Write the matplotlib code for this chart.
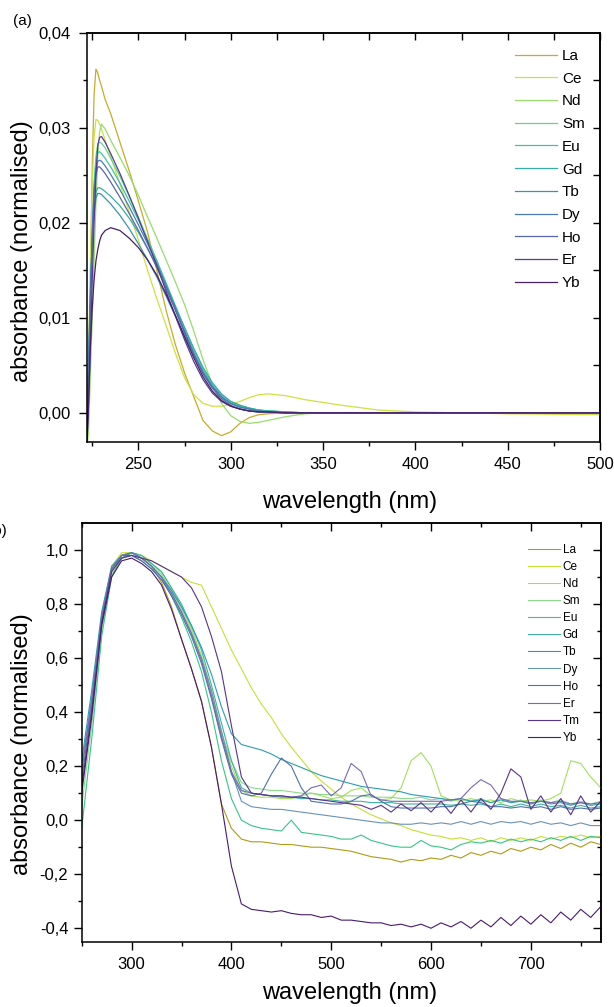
import matplotlib
matplotlib.use("Agg")
import matplotlib.pyplot as plt
from matplotlib.ticker import FuncFormatter, FixedLocator

plt.rcParams['font.family'] = ['Liberation Sans', 'DejaVu Sans']

# ---------------- panel (a) data ----------------
wl_a = [222, 223, 224, 225, 226, 227, 228, 229, 230, 232, 235, 240, 245, 250, 255, 260,
        265, 270, 275, 280, 285, 290, 295, 300, 305, 310, 315, 320, 330, 340, 350, 360,
        380, 400, 450, 500]

names_a = ['La', 'Ce', 'Nd', 'Sm', 'Eu', 'Gd', 'Tb', 'Dy', 'Ho', 'Er', 'Yb']
colors_a = ['#c8ac28', '#cde23f', '#96dc6e', '#66d294', '#3fc4a2', '#36aea6',
            '#3a92ac', '#4a7cb4', '#5766aa', '#573c94', '#4a1f68']

La_a = [-0.004, 0.004, 0.014, 0.026, 0.0335, 0.0362, 0.0358, 0.0350, 0.0344, 0.0330, 0.0315,
        0.0285, 0.0255, 0.0223, 0.0190, 0.0150, 0.0108, 0.0072, 0.0042, 0.0017, -0.0008,
        -0.0019, -0.0024, -0.0020, -0.0011, -0.0005, -0.0002, -0.0001, 0.0, 0.0, 0.0, 0.0,
        0.0, 0.0, 0.0, 0.0]
Ce_a = [-0.004, 0.006, 0.016, 0.024, 0.029, 0.0309, 0.0308, 0.0304, 0.0299, 0.0287, 0.0270,
        0.0241, 0.0212, 0.0182, 0.0150, 0.0120, 0.0092, 0.0063, 0.0037, 0.0019, 0.0010,
        0.0007, 0.0007, 0.0009, 0.0012, 0.0016, 0.0019, 0.0020, 0.0018, 0.0014, 0.0011,
        0.0008, 0.0003, 0.0001, -0.0001, -0.0002]
Nd_a = [-0.004, -0.002, 0.004, 0.010, 0.016, 0.022, 0.027, 0.0296, 0.0304, 0.0299, 0.0287,
        0.0269, 0.0250, 0.0229, 0.0206, 0.0184, 0.0161, 0.0138, 0.0114, 0.0086, 0.0056,
        0.0030, 0.0010, -0.0003, -0.0009, -0.0011, -0.0010, -0.0008, -0.0004, -0.0001,
        0.0, 0.0, 0.0, 0.0, 0.0, 0.0]
Sm_a = [-0.004, 0.003, 0.011, 0.018, 0.024, 0.027, 0.0283, 0.0285, 0.0284, 0.0279, 0.0268,
        0.0249, 0.0228, 0.0206, 0.0183, 0.0160, 0.0135, 0.0110, 0.0085, 0.0062, 0.0042,
        0.0027, 0.0016, 0.0010, 0.0007, 0.0005, 0.0003, 0.0002, 0.0001, 0.0, 0.0, 0.0,
        0.0, 0.0, 0.0, 0.0]
Eu_a = [-0.004, 0.004, 0.012, 0.019, 0.0240, 0.0265, 0.0274, 0.0275, 0.0273, 0.0268, 0.0259,
        0.0242, 0.0223, 0.0203, 0.0182, 0.0160, 0.0137, 0.0113, 0.0089, 0.0066, 0.0046,
        0.0030, 0.0019, 0.0012, 0.0008, 0.0005, 0.0003, 0.0002, 0.0001, 0.0, 0.0, 0.0,
        0.0, 0.0, 0.0, 0.0]
Gd_a = [-0.004, 0.005, 0.012, 0.018, 0.0215, 0.0232, 0.0237, 0.0237, 0.0236, 0.0233, 0.0228,
        0.0218, 0.0205, 0.0190, 0.0173, 0.0155, 0.0134, 0.0112, 0.0090, 0.0068, 0.0048,
        0.0032, 0.0020, 0.0012, 0.0008, 0.0005, 0.0003, 0.0002, 0.0001, 0.0, 0.0, 0.0,
        0.0, 0.0, 0.0, 0.0]
Tb_a = [-0.004, 0.006, 0.013, 0.018, 0.021, 0.0226, 0.0231, 0.0231, 0.0230, 0.0226, 0.0220,
        0.0208, 0.0194, 0.0178, 0.0161, 0.0143, 0.0123, 0.0102, 0.0081, 0.0061, 0.0043,
        0.0028, 0.0017, 0.0010, 0.0006, 0.0004, 0.0002, 0.0001, 0.0, 0.0, 0.0, 0.0,
        0.0, 0.0, 0.0, 0.0]
Dy_a = [-0.004, 0.004, 0.012, 0.019, 0.0235, 0.0257, 0.0265, 0.0266, 0.0265, 0.0260, 0.0251,
        0.0235, 0.0217, 0.0198, 0.0178, 0.0157, 0.0134, 0.0110, 0.0086, 0.0063, 0.0043,
        0.0028, 0.0017, 0.0010, 0.0006, 0.0004, 0.0002, 0.0001, 0.0, 0.0, 0.0, 0.0,
        0.0, 0.0, 0.0, 0.0]
Ho_a = [-0.004, 0.003, 0.011, 0.018, 0.0230, 0.0251, 0.0259, 0.0259, 0.0257, 0.0252, 0.0243,
        0.0227, 0.0210, 0.0192, 0.0173, 0.0153, 0.0131, 0.0108, 0.0084, 0.0061, 0.0041,
        0.0026, 0.0015, 0.0008, 0.0004, 0.0002, 0.0001, 0.0001, 0.0, 0.0, 0.0, 0.0,
        0.0, 0.0, 0.0, 0.0]
Er_a = [-0.004, 0.001, 0.007, 0.014, 0.020, 0.025, 0.0282, 0.0290, 0.0291, 0.0285, 0.0273,
        0.0252, 0.0229, 0.0205, 0.0180, 0.0155, 0.0128, 0.0102, 0.0077, 0.0054, 0.0035,
        0.0021, 0.0012, 0.0007, 0.0004, 0.0002, 0.0001, 0.0001, 0.0, 0.0, 0.0, 0.0,
        0.0, 0.0, 0.0, 0.0]
Yb_a = [-0.004, 0.001, 0.007, 0.011, 0.014, 0.016, 0.0172, 0.0181, 0.0187, 0.0192, 0.0195,
        0.0192, 0.0184, 0.0174, 0.0161, 0.0145, 0.0125, 0.0103, 0.0080, 0.0058, 0.0038,
        0.0023, 0.0013, 0.0007, 0.0004, 0.0002, 0.0001, 0.0001, 0.0, 0.0, 0.0, 0.0,
        0.0, 0.0, 0.0, 0.0]
series_a = [La_a, Ce_a, Nd_a, Sm_a, Eu_a, Gd_a, Tb_a, Dy_a, Ho_a, Er_a, Yb_a]

# ---------------- panel (b) data ----------------
wl_b = [250, 260, 270, 280, 290, 300, 310, 320, 330, 340, 350, 360, 370, 380, 390, 400,
        410, 420, 430, 440, 450, 460, 470, 480, 490, 500, 510, 520, 530, 540, 550, 560,
        570, 580, 590, 600, 610, 620, 630, 640, 650, 660, 670, 680, 690, 700, 710, 720,
        730, 740, 750, 760, 770]

names_b = ['La', 'Ce', 'Nd', 'Sm', 'Eu', 'Gd', 'Tb', 'Dy', 'Ho', 'Er', 'Tm', 'Yb']
colors_b = ['#b09b16', '#c6e036', '#a2e05a', '#8cd88c', '#3ac486', '#3cb4a0', '#2c9cb2',
            '#6892b8', '#4c72aa', '#7a68b0', '#573290', '#4a1a6e']

La_b = [0.12, 0.40, 0.73, 0.92, 0.97, 0.99, 0.97, 0.94, 0.88, 0.79, 0.67, 0.56, 0.44, 0.27,
        0.06, -0.03, -0.07, -0.08, -0.08, -0.085, -0.09, -0.09, -0.095, -0.10, -0.10, -0.105,
        -0.11, -0.115, -0.125, -0.135, -0.14, -0.145, -0.155, -0.145, -0.15, -0.14, -0.145,
        -0.13, -0.14, -0.12, -0.13, -0.115, -0.125, -0.105, -0.115, -0.10, -0.11, -0.09,
        -0.105, -0.085, -0.10, -0.08, -0.09]
Ce_b = [0.18, 0.45, 0.76, 0.94, 0.99, 0.99, 0.98, 0.96, 0.94, 0.92, 0.90, 0.88, 0.87, 0.79,
        0.71, 0.63, 0.56, 0.49, 0.43, 0.38, 0.32, 0.27, 0.225, 0.18, 0.145, 0.115, 0.085,
        0.06, 0.04, 0.02, 0.005, -0.01, -0.02, -0.035, -0.045, -0.055, -0.06, -0.07, -0.065,
        -0.075, -0.065, -0.08, -0.065, -0.075, -0.065, -0.075, -0.06, -0.07, -0.06, -0.065,
        -0.055, -0.065, -0.06]
Nd_b = [0.15, 0.42, 0.74, 0.93, 0.98, 0.99, 0.97, 0.95, 0.92, 0.86, 0.79, 0.71, 0.61, 0.48,
        0.33, 0.20, 0.11, 0.09, 0.085, 0.085, 0.08, 0.08, 0.09, 0.10, 0.09, 0.08, 0.085,
        0.11, 0.12, 0.09, 0.075, 0.08, 0.12, 0.22, 0.25, 0.20, 0.09, 0.075, 0.07, 0.08, 0.07,
        0.075, 0.065, 0.08, 0.07, 0.075, 0.07, 0.08, 0.10, 0.22, 0.21, 0.16, 0.12]
Sm_b = [0.05, 0.35, 0.70, 0.91, 0.97, 0.99, 0.98, 0.95, 0.91, 0.85, 0.78, 0.70, 0.60, 0.47,
        0.32, 0.22, 0.14, 0.12, 0.115, 0.11, 0.11, 0.105, 0.10, 0.10, 0.095, 0.095, 0.09,
        0.09, 0.09, 0.085, 0.085, 0.085, 0.08, 0.08, 0.085, 0.075, 0.08, 0.07, 0.08, 0.07,
        0.08, 0.065, 0.08, 0.065, 0.075, 0.06, 0.075, 0.065, 0.075, 0.06, 0.07, 0.06, 0.07]
Eu_b = [-0.03, 0.30, 0.68, 0.90, 0.97, 0.99, 0.97, 0.94, 0.90, 0.83, 0.75, 0.66, 0.55, 0.40,
        0.22, 0.08, 0.0, -0.02, -0.03, -0.035, -0.04, 0.0, -0.045, -0.05, -0.055, -0.06,
        -0.07, -0.07, -0.055, -0.075, -0.085, -0.095, -0.10, -0.10, -0.075, -0.095, -0.10,
        -0.11, -0.09, -0.08, -0.085, -0.075, -0.085, -0.07, -0.08, -0.07, -0.08, -0.065,
        -0.075, -0.06, -0.075, -0.06, -0.065]
Gd_b = [0.20, 0.45, 0.75, 0.93, 0.98, 0.99, 0.98, 0.95, 0.92, 0.86, 0.80, 0.72, 0.63, 0.50,
        0.36, 0.22, 0.12, 0.10, 0.095, 0.09, 0.085, 0.085, 0.08, 0.08, 0.075, 0.075, 0.07,
        0.07, 0.07, 0.065, 0.065, 0.065, 0.06, 0.06, 0.06, 0.06, 0.06, 0.055, 0.06, 0.055,
        0.06, 0.05, 0.06, 0.05, 0.06, 0.05, 0.06, 0.05, 0.055, 0.045, 0.055, 0.045, 0.05]
Tb_b = [0.22, 0.48, 0.77, 0.94, 0.98, 0.99, 0.97, 0.94, 0.90, 0.85, 0.79, 0.72, 0.64, 0.54,
        0.42, 0.32, 0.28, 0.27, 0.26, 0.245, 0.225, 0.21, 0.195, 0.18, 0.165, 0.155, 0.145,
        0.135, 0.125, 0.12, 0.115, 0.11, 0.105, 0.095, 0.09, 0.085, 0.08, 0.075, 0.08, 0.07,
        0.075, 0.065, 0.075, 0.065, 0.07, 0.06, 0.07, 0.06, 0.065, 0.055, 0.065, 0.055, 0.06]
Dy_b = [0.20, 0.44, 0.75, 0.93, 0.97, 0.98, 0.96, 0.93, 0.89, 0.84, 0.77, 0.69, 0.60, 0.48,
        0.33, 0.18, 0.07, 0.05, 0.045, 0.04, 0.04, 0.035, 0.03, 0.025, 0.02, 0.015, 0.01,
        0.005, 0.0, -0.005, -0.01, -0.01, -0.015, -0.015, -0.01, -0.015, -0.01, -0.015,
        -0.005, -0.015, -0.005, -0.015, -0.005, -0.01, -0.005, -0.015, -0.005, -0.015,
        -0.01, -0.02, -0.01, -0.02, -0.02]
Ho_b = [0.15, 0.42, 0.74, 0.93, 0.98, 0.98, 0.96, 0.93, 0.89, 0.83, 0.76, 0.68, 0.58, 0.45,
        0.30, 0.17, 0.10, 0.09, 0.10, 0.17, 0.23, 0.20, 0.12, 0.07, 0.065, 0.06, 0.06, 0.07,
        0.09, 0.095, 0.07, 0.05, 0.045, 0.045, 0.045, 0.045, 0.05, 0.05, 0.06, 0.07, 0.065,
        0.05, 0.05, 0.045, 0.05, 0.045, 0.05, 0.04, 0.05, 0.04, 0.045, 0.04, 0.045]
Er_b = [0.18, 0.44, 0.75, 0.93, 0.98, 0.99, 0.97, 0.94, 0.90, 0.84, 0.77, 0.69, 0.59, 0.46,
        0.31, 0.18, 0.11, 0.10, 0.095, 0.09, 0.09, 0.085, 0.09, 0.12, 0.13, 0.09, 0.12, 0.21,
        0.18, 0.09, 0.075, 0.07, 0.07, 0.07, 0.07, 0.07, 0.07, 0.075, 0.08, 0.12, 0.15, 0.13,
        0.08, 0.07, 0.07, 0.065, 0.07, 0.065, 0.07, 0.06, 0.065, 0.06, 0.065]
Tm_b = [0.12, 0.40, 0.73, 0.92, 0.97, 0.98, 0.97, 0.96, 0.94, 0.92, 0.90, 0.86, 0.79, 0.68,
        0.55, 0.35, 0.16, 0.10, 0.095, 0.09, 0.09, 0.085, 0.085, 0.08, 0.075, 0.07, 0.065,
        0.06, 0.055, 0.04, 0.055, 0.03, 0.06, 0.035, 0.065, 0.03, 0.07, 0.025, 0.075, 0.03,
        0.08, 0.04, 0.10, 0.19, 0.16, 0.04, 0.09, 0.03, 0.08, 0.02, 0.09, 0.03, 0.07]
Yb_b = [0.10, 0.38, 0.72, 0.90, 0.96, 0.97, 0.95, 0.92, 0.87, 0.78, 0.67, 0.56, 0.44, 0.27,
        0.06, -0.17, -0.31, -0.33, -0.335, -0.34, -0.335, -0.345, -0.35, -0.35, -0.36,
        -0.355, -0.37, -0.37, -0.375, -0.38, -0.38, -0.39, -0.385, -0.395, -0.385, -0.40,
        -0.38, -0.395, -0.375, -0.40, -0.37, -0.395, -0.36, -0.39, -0.355, -0.385, -0.35,
        -0.38, -0.34, -0.37, -0.33, -0.36, -0.32]
series_b = [La_b, Ce_b, Nd_b, Sm_b, Eu_b, Gd_b, Tb_b, Dy_b, Ho_b, Er_b, Tm_b, Yb_b]

# ---------------- figure ----------------
W, H = 614, 1007
fig = plt.figure(figsize=(W / 100, H / 100), dpi=100)

def fbox(x0, y0, x1, y1):
    return [x0 / W, 1 - y1 / H, (x1 - x0) / W, (y1 - y0) / H]

ax_a = fig.add_axes(fbox(86.7, 33, 600, 442.3))
ax_b = fig.add_axes(fbox(81.7, 523, 600.7, 942.3))

comma2 = FuncFormatter(lambda v, p: ('%.2f' % v).replace('.', ',').replace('-0,00', '0,00'))
comma1 = FuncFormatter(lambda v, p: ('%.1f' % v).replace('.', ',')
                       if abs(v) > 1e-9 else '0,0')

for ax, ypad in ((ax_a, 6.0), (ax_b, 3.8)):
    for s in ax.spines.values():
        s.set_linewidth(1.1)
    ax.tick_params(axis='both', which='major', direction='out', length=5.8, width=1.0,
                   labelsize=12, top=False, right=False)
    ax.tick_params(axis='both', which='minor', direction='out', length=3.2, width=1.0,
                   top=False, right=False)
    ax.tick_params(axis='x', which='major', pad=4.5)
    ax.tick_params(axis='y', which='major', pad=ypad)

# panel (a)
for vals, nm, c in zip(series_a, names_a, colors_a):
    ax_a.plot(wl_a, vals, color=c, lw=0.9, label=nm)
ax_a.set_xlim(222, 500)
ax_a.set_ylim(-0.0031, 0.04)
ax_a.xaxis.set_major_locator(FixedLocator([250, 300, 350, 400, 450, 500]))
ax_a.xaxis.set_minor_locator(FixedLocator([225, 275, 325, 375, 425, 475]))
ax_a.yaxis.set_major_locator(FixedLocator([0.0, 0.01, 0.02, 0.03, 0.04]))
ax_a.yaxis.set_minor_locator(FixedLocator([0.005, 0.015, 0.025, 0.035]))
ax_a.yaxis.set_major_formatter(comma2)
secx = ax_a.secondary_xaxis('top')
secx.set_xticks([225, 250, 275, 300, 325, 350, 375, 400, 425, 450, 475, 500])
secx.tick_params(direction='in', length=4.8, width=1.0, labeltop=False)
secy = ax_a.secondary_yaxis('right')
secy.set_yticks([0.0, 0.005, 0.01, 0.015, 0.02, 0.025, 0.03, 0.035])
secy.tick_params(direction='in', length=4.8, width=1.0, labelright=False)
for sp in list(secx.spines.values()) + list(secy.spines.values()):
    sp.set_linewidth(1.1)

ax_a.legend(loc='upper left', bbox_to_anchor=(515 / W, 1 - 49 / H),
            bbox_transform=fig.transFigure, frameon=False, fontsize=11,
            handlelength=2.75, handletextpad=0.33, labelspacing=0.57,
            borderpad=0, borderaxespad=0)

# panel (b)
for vals, nm, c in zip(series_b, names_b, colors_b):
    ax_b.plot(wl_b, vals, color=c, lw=0.8, label=nm)
ax_b.set_xlim(250, 770)
ax_b.set_ylim(-0.452, 1.1)
ax_b.xaxis.set_major_locator(FixedLocator([300, 400, 500, 600, 700]))
ax_b.xaxis.set_minor_locator(FixedLocator([250, 350, 450, 550, 650, 750]))
ax_b.yaxis.set_major_locator(FixedLocator([-0.4, -0.2, 0.0, 0.2, 0.4, 0.6, 0.8, 1.0]))
ax_b.yaxis.set_minor_locator(FixedLocator([-0.3, -0.1, 0.1, 0.3, 0.5, 0.7, 0.9]))
ax_b.yaxis.set_major_formatter(comma1)
secx_b = ax_b.secondary_xaxis('top')
secx_b.xaxis.set_major_locator(FixedLocator([300, 400, 500, 600, 700]))
secx_b.xaxis.set_minor_locator(FixedLocator([250, 350, 450, 550, 650, 750]))
secx_b.tick_params(which='major', direction='in', length=5.8, width=1.0, labeltop=False)
secx_b.tick_params(which='minor', direction='in', length=3.2, width=1.0)
secy_b = ax_b.secondary_yaxis('right')
secy_b.yaxis.set_major_locator(FixedLocator([-0.4, -0.2, 0.0, 0.2, 0.4, 0.6, 0.8, 1.0]))
secy_b.yaxis.set_minor_locator(FixedLocator([-0.3, -0.1, 0.1, 0.3, 0.5, 0.7, 0.9]))
secy_b.tick_params(which='major', direction='in', length=5.8, width=1.0, labelright=False)
secy_b.tick_params(which='minor', direction='in', length=3.2, width=1.0)
for sp in list(secx_b.spines.values()) + list(secy_b.spines.values()):
    sp.set_linewidth(1.1)

ax_b.legend(loc='upper left', bbox_to_anchor=(528 / W, 1 - 544 / H),
            bbox_transform=fig.transFigure, frameon=False, fontsize=8.5,
            handlelength=2.7, handletextpad=0.25, labelspacing=0.43,
            borderpad=0, borderaxespad=0)

# labels
fig.text(22 / W, 1 - 251 / H, 'absorbance (normalised)', rotation=90, ha='center',
         va='center', fontsize=17)
fig.text(22 / W, 1 - 744 / H, 'absorbance (normalised)', rotation=90, ha='center',
         va='center', fontsize=17)
fig.text(350 / W, 1 - 502 / H, 'wavelength (nm)', ha='center', va='center', fontsize=17)
fig.text(350 / W, 1 - 993 / H, 'wavelength (nm)', ha='center', va='center', fontsize=17)
fig.text(22 / W, 1 - 21 / H, '(a)', ha='center', va='center', fontsize=11)
fig.text(7 / W, 1 - 531 / H, '(b)', ha='right', va='center', fontsize=11)

fig.savefig('out.png', dpi=100)
